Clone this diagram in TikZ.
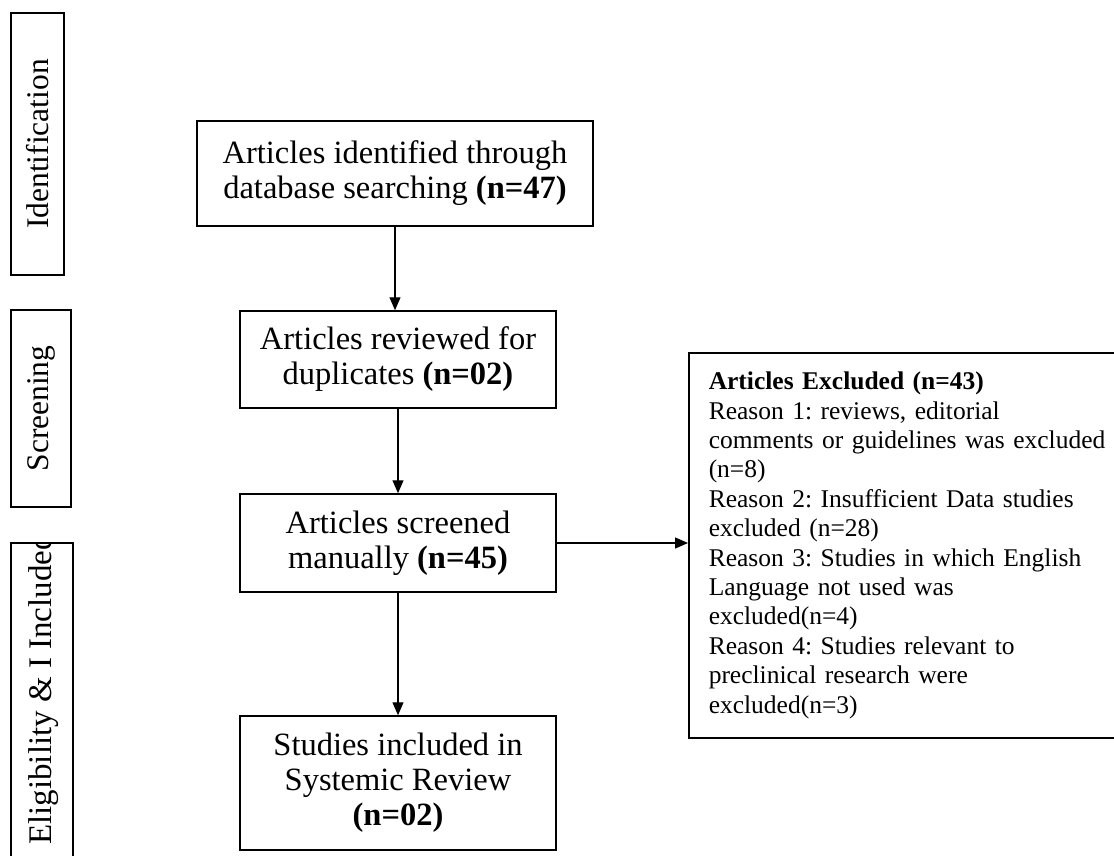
\documentclass[tikz,border=0pt]{standalone}
\usepackage{fontspec}
\setmainfont{Liberation Serif}
\usetikzlibrary{arrows.meta}
\frenchspacing

\begin{document}
\begin{tikzpicture}[x=1pt, y=-1pt,
        stage/.style={draw, line width=1.5pt, align=center, inner sep=0pt, font=\fontsize{32.5}{35}\selectfont},
        phase/.style={draw, line width=1.5pt, inner sep=0pt, rotate=90, font=\fontsize{31.5}{35}\selectfont},
        flow/.style={-{Triangle[length=13pt, width=11pt]}, line width=1.3pt}]
    \fill[white] (0,0) rectangle (1114,856);
    \useasboundingbox (0,0) rectangle (1114,856);
        % phases on the left
        \node[phase, minimum width=262, minimum height=53] (ident) at (37.5,144) {Identification};
        \node[phase, minimum width=197, minimum height=60] (screen) at (41,408.5) {Screening};
        \node[draw, line width=1.5pt, minimum width=62, minimum height=340] (elig) at (42,713) {};
        \begin{scope}
            \clip (elig.north west) rectangle (elig.south east);
            \node[rotate=90, anchor=base west, inner sep=0pt, font=\fontsize{33}{35}\selectfont] (eligtext) at (51,845) {Eligibility \& I Included};
        \end{scope}
        % main flow
        \node[stage, minimum width=396, minimum height=105] (found) at (395,173.5) {Articles identified through\\database searching \textbf{(n=47)}};
        \node[stage, minimum width=316, minimum height=97] (dupl) at (398,359.5) {Articles reviewed for\\duplicates \textbf{(n=02)}};
        \node[stage, minimum width=316, minimum height=98] (manual) at (398,543) {Articles screened\\manually \textbf{(n=45)}};
        \node[stage, minimum width=316, minimum height=134] (incl) at (398,783) {Studies included in\\Systemic Review\\\textbf{(n=02)}};
        % excluded
        \node[draw, line width=1.5pt, anchor=north west, minimum width=440, minimum height=385, text width=400, inner xsep=20pt, inner ysep=0pt, align=left, font=\fontsize{25.5}{29.4}\selectfont] (excl) at (688,352) {\textbf{Articles Excluded (n=43)}\\
            Reason 1: reviews, editorial\\
            comments or guidelines was excluded\\
            (n=8)\\
            Reason 2: Insufficient Data studies\\
            excluded (n=28)\\
            Reason 3: Studies in which English\\
            Language not used was\\
            excluded(n=4)\\
            Reason 4: Studies relevant to\\
            preclinical research were\\
            excluded(n=3)};
        \draw[flow] (found.south) -- (found.south |- dupl.north);
        \draw[flow] (dupl.south) -- (manual.north);
        \draw[flow] (manual.south) -- (incl.north);
        \draw[flow] (manual.east) -- (manual.east -| excl.west);
    \end{tikzpicture}
\end{document}
